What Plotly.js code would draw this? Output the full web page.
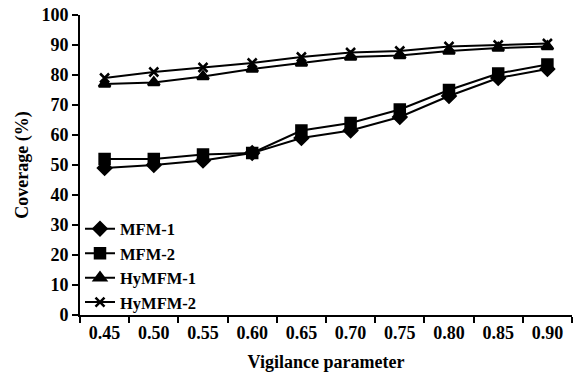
<!DOCTYPE html>
<html><head><meta charset="utf-8">
<script src="https://cdn.plot.ly/plotly-3.0.1.min.js"></script>
<style>html,body{margin:0;padding:0;background:#fff}#chart{width:579px;height:375px}</style>
</head><body><div id="chart"></div>
<script>
const categories = ["0.45","0.50","0.55","0.60","0.65","0.70","0.75","0.80","0.85","0.90"];
const mfm1 = [49, 50, 51.5, 54, 59, 61.5, 66, 73, 79, 82];
const mfm2 = [52, 52, 53.5, 54, 61.5, 64, 68.5, 75, 80.5, 83.5];
const hymfm1 = [77, 77.5, 79.5, 82, 84, 86, 86.5, 88, 89, 89.5];
const hymfm2 = [79, 81, 82.5, 84, 86, 87.5, 88, 89.5, 90, 90.5];
const seriesNames = ["MFM-1","MFM-2","HyMFM-1","HyMFM-2"];
const symbols = ["diamond","square","triangle-up","x-thin-open"];
const sizes = [10, 10, 10, 9];
const data = [mfm1, mfm2, hymfm1, hymfm2].map((y, i) => ({
  x: categories, y: y, name: seriesNames[i], type: "scatter", mode: "lines+markers",
  line: {color: "#000", width: 2},
  marker: {symbol: symbols[i], size: sizes[i], color: "#000", line: {color: "#000", width: 2.5}}
}));
const fam = "Liberation Serif, Times New Roman, serif";
const mk = (s) => ({family: fam, size: s, color: "#000", weight: 700});
const layout = {
  width: 579, height: 375,
  margin: {l: 80, r: 7, t: 15, b: 60},
  paper_bgcolor: "#fff", plot_bgcolor: "#fff",
  font: mk(18),
  showlegend: true,
  legend: {x: 0.0, y: 0.345, xanchor: "left", yanchor: "top", bgcolor: "rgba(0,0,0,0)",
    font: mk(16.5), tracegroupgap: 0, itemwidth: 30},
  xaxis: {
    type: "category", tickson: "boundaries", ticks: "outside", ticklen: 6, tickwidth: 2, tickcolor: "#000",
    showline: true, linecolor: "#000", linewidth: 2, showgrid: false, zeroline: false,
    tickfont: mk(18),
    title: {text: "Vigilance parameter", font: mk(18), standoff: 14},
    range: [-0.5, 9.5]
  },
  yaxis: {
    range: [0, 100], dtick: 10, ticks: "outside", ticklen: 6, tickwidth: 2, tickcolor: "#000",
    showline: true, linecolor: "#000", linewidth: 2, showgrid: false, zeroline: false,
    tickfont: mk(18),
    title: {text: "Coverage (%)", font: mk(18), standoff: 8}
  }
};
Plotly.newPlot("chart", data, layout, {displayModeBar: false, staticPlot: true});
</script></body></html>
